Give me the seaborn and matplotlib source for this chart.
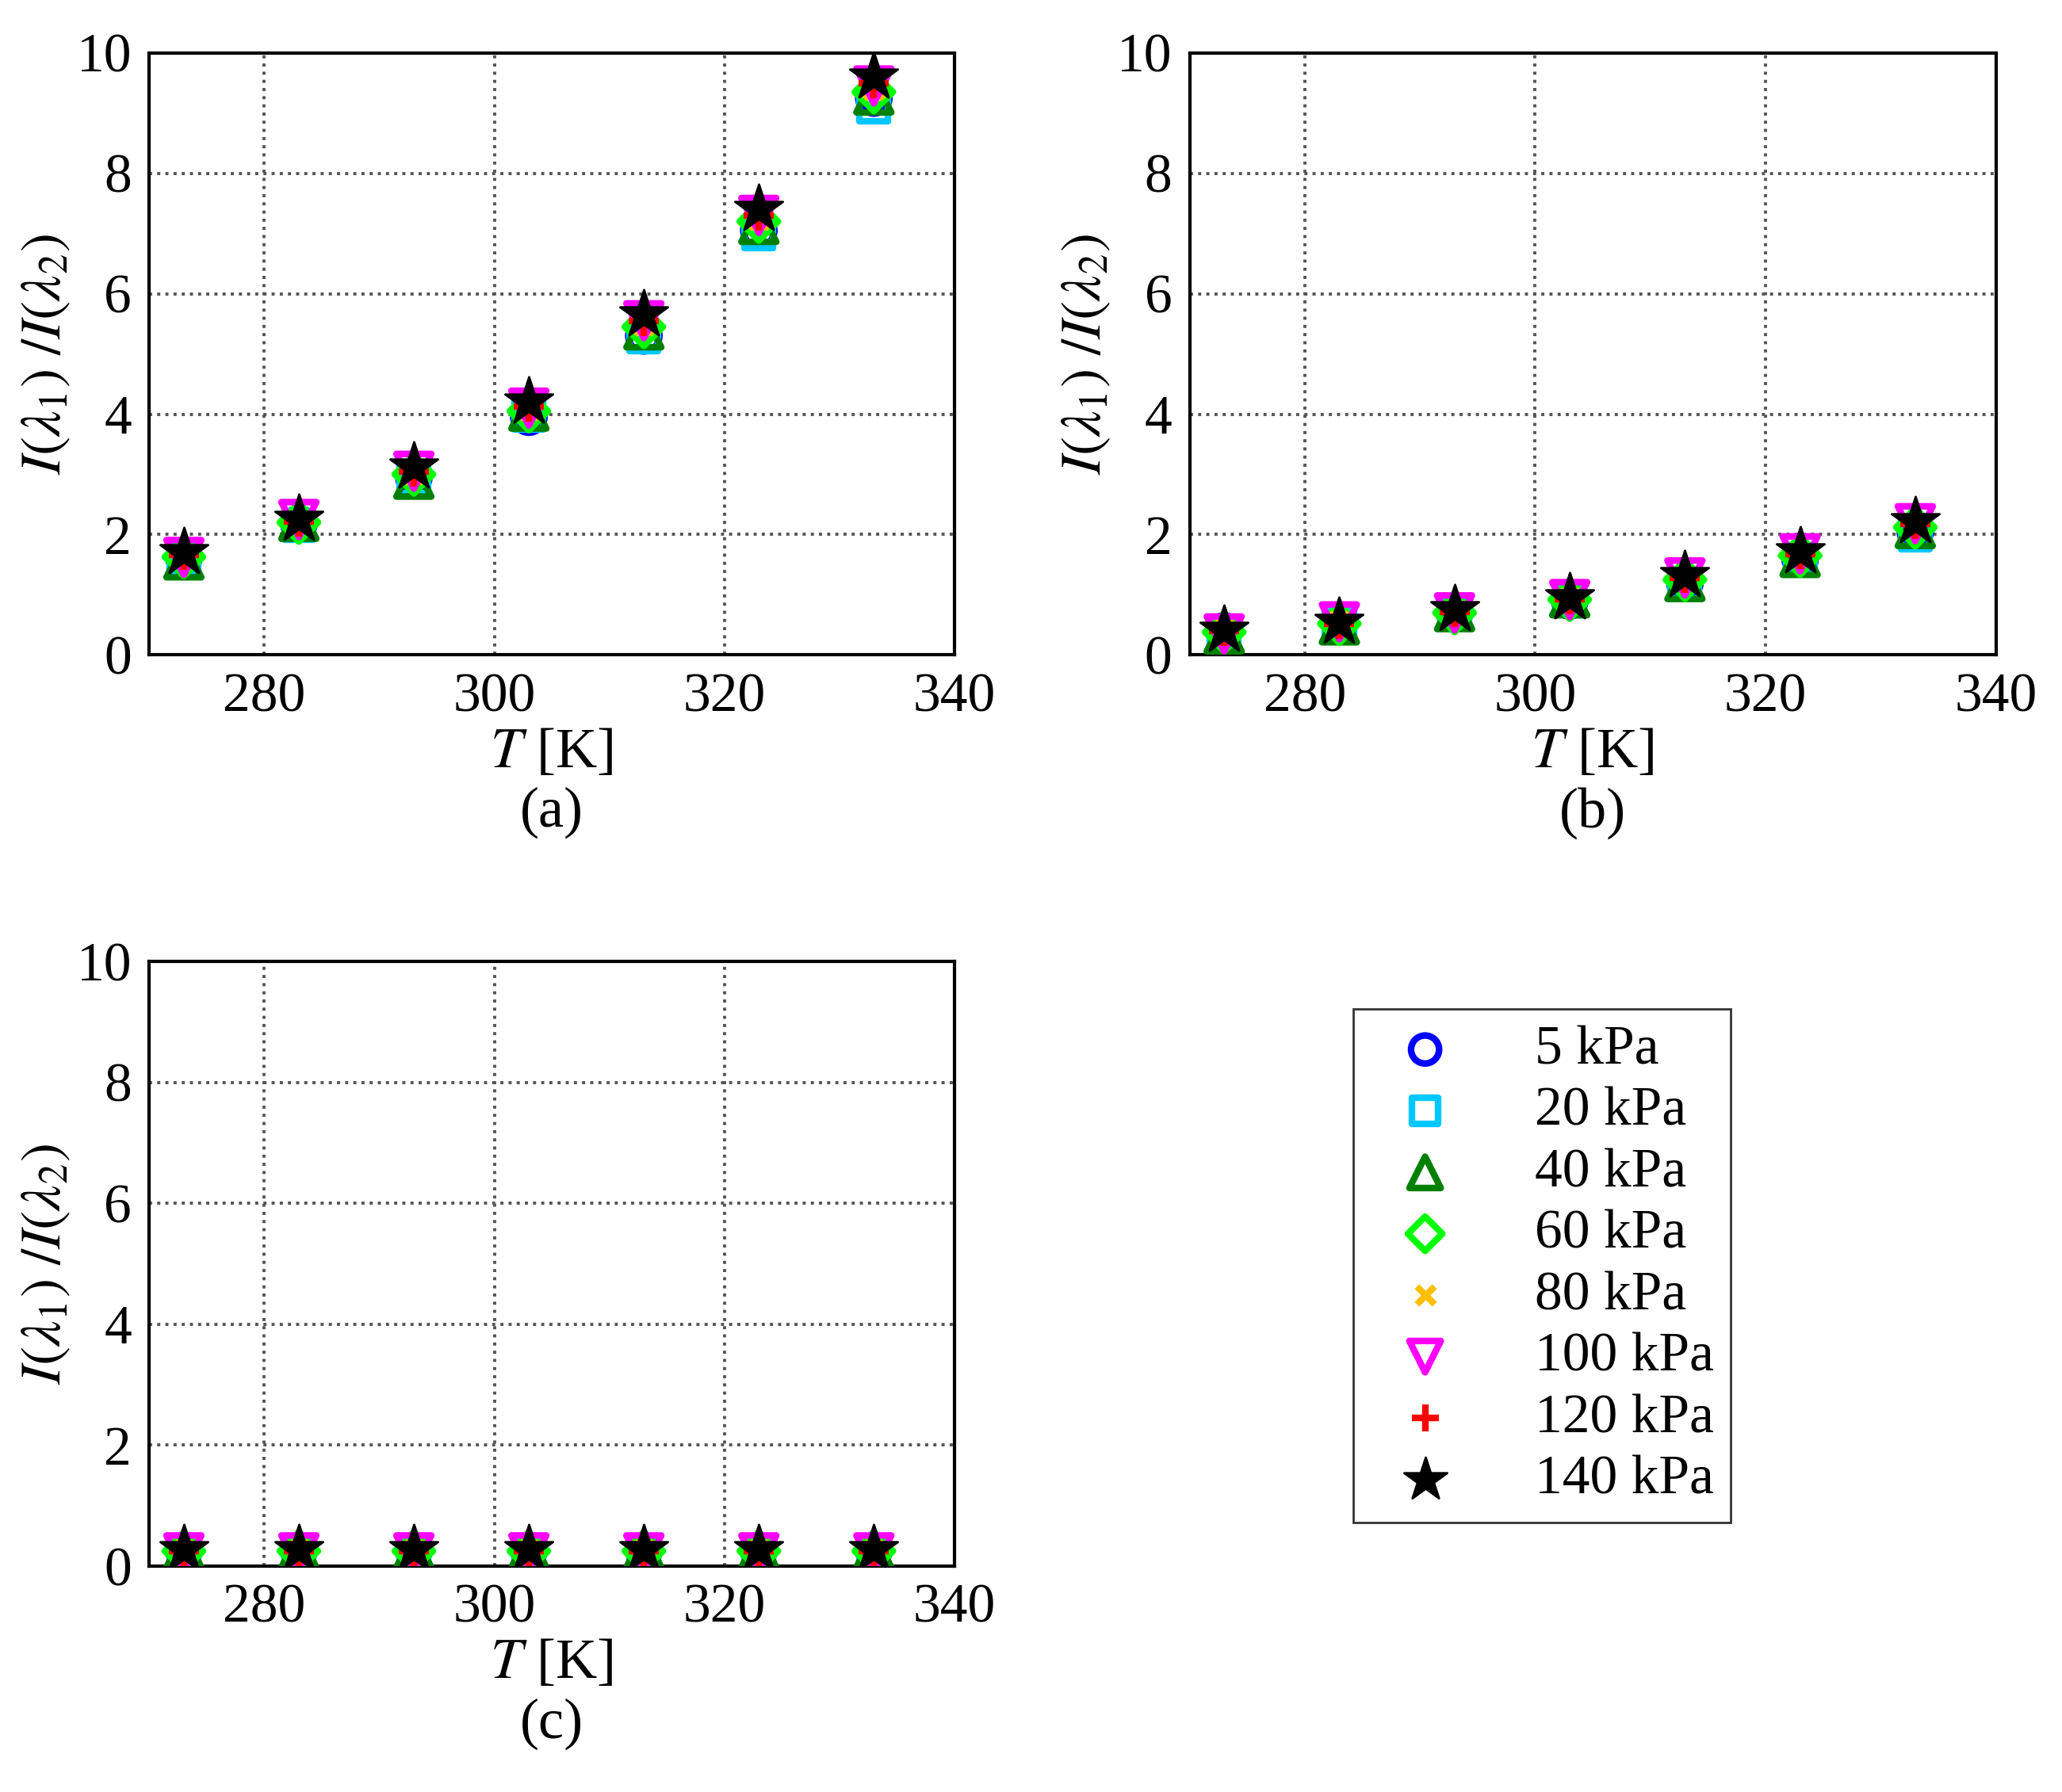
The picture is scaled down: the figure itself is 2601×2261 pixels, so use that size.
import numpy as np
import matplotlib
matplotlib.use("Agg")
import matplotlib.pyplot as plt
import seaborn as sns

sns.set_style("white")
plt.rcParams['font.family'] = ['Liberation Serif', 'DejaVu Serif']
plt.rcParams['mathtext.fontset'] = 'stix'
plt.rcParams['text.color'] = 'black'
plt.rcParams['axes.labelcolor'] = 'black'
plt.rcParams['xtick.color'] = 'black'
plt.rcParams['ytick.color'] = 'black'

temps = [273, 283, 293, 303, 313, 323, 333]
pressures = ["5 kPa", "20 kPa", "40 kPa", "60 kPa", "80 kPa", "100 kPa", "120 kPa", "140 kPa"]

# ratio I(l1)/I(l2) per pressure, panel (a)
ratio_a = [
    [1.62, 2.18, 2.95, 3.95, 5.30, 7.05, 9.25],
    [1.60, 2.15, 2.93, 3.98, 5.28, 7.00, 9.10],
    [1.58, 2.22, 2.92, 4.05, 5.40, 7.15, 9.30],
    [1.63, 2.20, 3.00, 4.05, 5.45, 7.20, 9.35],
    [1.65, 2.20, 3.02, 4.08, 5.50, 7.25, 9.40],
    [1.62, 2.25, 3.05, 4.10, 5.55, 7.30, 9.45],
    [1.67, 2.22, 3.05, 4.12, 5.55, 7.30, 9.50],
    [1.70, 2.25, 3.12, 4.20, 5.65, 7.40, 9.60],
]
ratio_b = [
    [0.40, 0.55, 0.70, 0.90, 1.20, 1.60, 2.05],
    [0.38, 0.52, 0.68, 0.90, 1.18, 1.58, 2.00],
    [0.35, 0.50, 0.72, 0.95, 1.22, 1.62, 2.10],
    [0.38, 0.52, 0.70, 0.92, 1.25, 1.65, 2.12],
    [0.40, 0.55, 0.72, 0.93, 1.25, 1.65, 2.15],
    [0.35, 0.55, 0.70, 0.92, 1.28, 1.68, 2.18],
    [0.40, 0.52, 0.72, 0.93, 1.28, 1.68, 2.18],
    [0.42, 0.55, 0.75, 0.95, 1.32, 1.72, 2.22],
]
ratio_c = [
    [0.25, 0.25, 0.25, 0.25, 0.25, 0.25, 0.25],
    [0.24, 0.24, 0.24, 0.24, 0.24, 0.24, 0.24],
    [0.27, 0.27, 0.27, 0.27, 0.27, 0.27, 0.27],
    [0.25, 0.25, 0.25, 0.25, 0.25, 0.25, 0.25],
    [0.25, 0.25, 0.25, 0.25, 0.25, 0.25, 0.25],
    [0.22, 0.22, 0.22, 0.22, 0.22, 0.22, 0.22],
    [0.25, 0.25, 0.25, 0.25, 0.25, 0.25, 0.25],
    [0.27, 0.27, 0.27, 0.27, 0.27, 0.27, 0.27],
]

markers = ['o', 's', '^', 'D', 'x', 'v', '+', '*']
colors = ['#0000ff', '#00c8ff', '#008000', '#00ff00', '#ffbf00', '#ff00ff', '#ff0000', '#000000']
sizes = [200, 170, 250, 150, 80, 250, 180, 520]

fig = plt.figure(figsize=(13.005, 11.305), dpi=200)
W, H = 1560, 1357
def box(l, r, t, b):
    return [l / W, 1 - b / H, (r - l) / W, (b - t) / H]

axes = [fig.add_axes(box(113, 722, 40, 496)),
        fig.add_axes(box(900, 1510, 40, 496)),
        fig.add_axes(box(113, 722, 728, 1186))]
data = [ratio_a, ratio_b, ratio_c]
labels = ['(a)', '(b)', '(c)']

for ax, d, lab in zip(axes, data, labels):
    for i in range(len(pressures)):
        m = markers[i]
        kw = dict(x=temps, y=d[i], marker=m, s=sizes[i], ax=ax, label=pressures[i], zorder=3 + i)
        if m in ('x', '+'):
            sns.scatterplot(color=colors[i], linewidth=3, **kw)
        elif m == '*':
            sns.scatterplot(color=colors[i], edgecolor='black', linewidth=1, **kw)
        else:
            sns.scatterplot(facecolors='none', edgecolor=colors[i], linewidth=3, **kw)
    ax.set_xlim(270, 340)
    ax.set_ylim(0, 10)
    ax.set_xticks([280, 300, 320, 340])
    ax.set_yticks([0, 2, 4, 6, 8, 10])
    ax.grid(True, color='#555555', linestyle=':', linewidth=1.4)
    for s in ax.spines.values():
        s.set_color('black')
        s.set_linewidth(1.5)
    ax.tick_params(labelsize=25, direction='in', length=6, color='black', pad=8)
    ax.set_xlabel('$T$ [K]\n' + lab, fontsize=26, labelpad=2)
    ax.set_ylabel(r'$I(\lambda_1)\ /I(\lambda_2)$', fontsize=26, labelpad=2)
    ax.get_legend().remove()

handles, labs = axes[0].get_legend_handles_labels()
fig.legend(handles, labs, loc='upper left', bbox_to_anchor=(1024 / W, 1 - 764 / H),
           fontsize=25, frameon=True, fancybox=False, edgecolor='black',
           handletextpad=1.0, labelspacing=0.2, borderpad=0.3, markerscale=0.9,
           borderaxespad=0)

fig.savefig("out.png", dpi=200)
